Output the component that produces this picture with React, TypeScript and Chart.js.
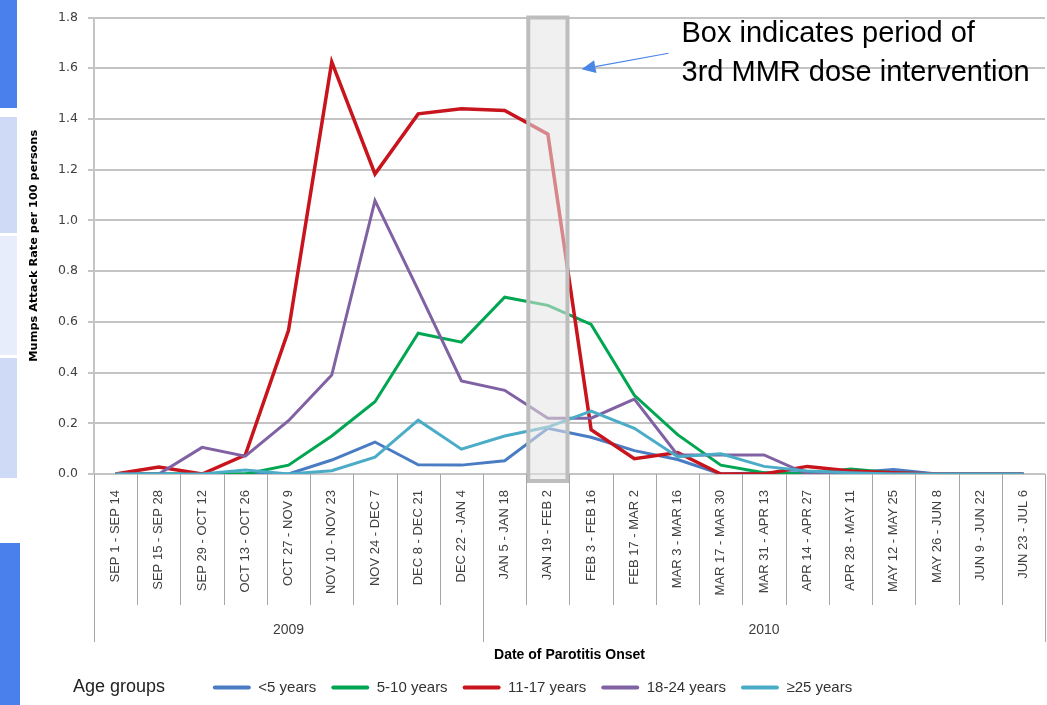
import { useEffect, useRef } from 'react';
import { Chart, registerables } from 'chart.js';

Chart.register(...registerables);

const categories = [
  'SEP 1 - SEP 14', 'SEP 15 - SEP 28', 'SEP 29 - OCT 12', 'OCT 13 - OCT 26', 'OCT 27 - NOV 9',
  'NOV 10 - NOV 23', 'NOV 24 - DEC 7', 'DEC 8 - DEC 21', 'DEC 22 - JAN 4', 'JAN 5 - JAN 18',
  'JAN 19 - FEB 2', 'FEB 3 - FEB 16', 'FEB 17 - MAR 2', 'MAR 3 - MAR 16', 'MAR 17 - MAR 30',
  'MAR 31 - APR 13', 'APR 14 - APR 27', 'APR 28 - MAY 11', 'MAY 12 - MAY 25', 'MAY 26 - JUN 8',
  'JUN 9 - JUN 22', 'JUN 23 - JUL 6',
];

const yearLabels = ['2009', '2010'];
const yearSpans = [9, 13];

const under5 = [0, 0, 0, 0, 0, 0.055, 0.126, 0.036, 0.035, 0.052, 0.18, 0.145, 0.092, 0.057, 0, 0.005, 0.005, 0.005, 0.018, 0, 0, 0];
const age5to10 = [0, 0, 0, 0, 0.035, 0.15, 0.285, 0.555, 0.52, 0.697, 0.665, 0.59, 0.31, 0.155, 0.035, 0.005, 0, 0.02, 0.005, 0, 0, 0];
const age11to17 = [0, 0.028, 0, 0.075, 0.567, 1.625, 1.183, 1.42, 1.44, 1.433, 1.34, 0.175, 0.06, 0.085, 0, 0, 0.03, 0.012, 0.005, 0, 0, 0];
const age18to24 = [0, 0, 0.105, 0.07, 0.21, 0.39, 1.078, 0.725, 0.367, 0.33, 0.22, 0.22, 0.295, 0.075, 0.075, 0.075, 0, 0, 0, 0, 0, 0];
const age25plus = [0, 0, 0, 0.016, 0, 0.013, 0.066, 0.212, 0.098, 0.15, 0.185, 0.248, 0.18, 0.068, 0.08, 0.03, 0.012, 0.005, 0, 0, 0, 0];

const seriesLabels = ['<5 years', '5-10 years', '11-17 years', '18-24 years', '≥25 years'];
const seriesValues = [under5, age5to10, age11to17, age18to24, age25plus];
const seriesColors = ['#4a7cc4', '#00a651', '#c8141c', '#8061a3', '#4aacc6'];

const yTicks = { min: 0, max: 1.8, step: 0.2 };
const interventionIndex = 10;
const arrowValue = 1.6;
const annotationLines = ['Box indicates period of', '3rd MMR dose intervention'];
const legendTitle = 'Age groups';
const yTitle = 'Mumps Attack Rate per 100 persons';
const xTitle = 'Date of Parotitis Onset';

const overlayPlugin = {
  id: 'overlay',
  afterDatasetsDraw(chart: any) {
    const { ctx, chartArea, scales } = chart;
    const x = scales.x;
    const step = x.getPixelForValue(1) - x.getPixelForValue(0);
    const cx = x.getPixelForValue(interventionIndex);
    const left = cx - step / 2 + 2;
    const right = cx + step / 2 - 2;
    const top = chartArea.top;
    const bottom = chartArea.bottom + 7;
    ctx.save();
    ctx.fillStyle = 'rgba(228,228,228,0.55)';
    ctx.fillRect(left, top, right - left, bottom - top);
    ctx.strokeStyle = '#bdbdbd';
    ctx.lineWidth = 4;
    ctx.strokeRect(left, top, right - left, bottom - top);
    ctx.restore();
  },
  afterDraw(chart: any) {
    const { ctx, chartArea, scales } = chart;
    const x = scales.x;
    const y = scales.y;
    const n = categories.length;
    const step = x.getPixelForValue(1) - x.getPixelForValue(0);
    const edge = (i: number) => x.getPixelForValue(0) - step / 2 + i * step;
    const base = chartArea.bottom;
    ctx.save();
    // category separators
    ctx.strokeStyle = '#a6a6a6';
    ctx.lineWidth = 1;
    const longEdges = new Set<number>([0, n]);
    let acc = 0;
    yearSpans.forEach((s) => { acc += s; longEdges.add(acc); });
    for (let i = 0; i <= n; i++) {
      const ex = Math.min(Math.round(edge(i)), chart.width - 2) + 0.5;
      ctx.beginPath();
      ctx.moveTo(ex, base);
      ctx.lineTo(ex, base + (longEdges.has(i) ? 168 : 131));
      ctx.stroke();
    }
    // year labels
    ctx.fillStyle = '#404040';
    ctx.font = "14px 'Liberation Sans', Arial, sans-serif";
    ctx.textAlign = 'center';
    ctx.textBaseline = 'middle';
    let startIdx = 0;
    yearLabels.forEach((lab, k) => {
      const a = edge(startIdx);
      const b = edge(startIdx + yearSpans[k]);
      ctx.fillText(lab, (a + b) / 2, base + 156);
      startIdx += yearSpans[k];
    });
    // arrow
    const cx = x.getPixelForValue(interventionIndex);
    const boxRight = cx + step / 2 - 2;
    const tipX = boxRight + 14;
    const tipY = y.getPixelForValue(arrowValue) + 1;
    const tailX = tipX + 87;
    const tailY = tipY - 16;
    const ang = Math.atan2(tailY - tipY, tailX - tipX);
    const headLen = 14;
    const headW = 6.5;
    const bx = tipX + Math.cos(ang) * headLen;
    const by = tipY + Math.sin(ang) * headLen;
    ctx.strokeStyle = '#4a86e8';
    ctx.fillStyle = '#4a86e8';
    ctx.lineWidth = 1.2;
    ctx.beginPath();
    ctx.moveTo(tailX, tailY);
    ctx.lineTo(bx, by);
    ctx.stroke();
    ctx.beginPath();
    ctx.moveTo(tipX, tipY);
    ctx.lineTo(bx - Math.sin(ang) * headW, by + Math.cos(ang) * headW);
    ctx.lineTo(bx + Math.sin(ang) * headW, by - Math.cos(ang) * headW);
    ctx.closePath();
    ctx.fill();
    // annotation text
    ctx.fillStyle = '#000000';
    ctx.font = "29px 'Liberation Sans', Arial, sans-serif";
    ctx.textAlign = 'left';
    ctx.textBaseline = 'alphabetic';
    ctx.fillText(annotationLines[0], tailX + 13, chartArea.top + 24);
    ctx.fillText(annotationLines[1], tailX + 13, chartArea.top + 63);
    // legend title
    const legend = chart.legend;
    if (legend && legend.legendHitBoxes && legend.legendHitBoxes.length) {
      const hb = legend.legendHitBoxes[0];
      ctx.fillStyle = '#222222';
      ctx.font = "18px 'Liberation Sans', Arial, sans-serif";
      ctx.textBaseline = 'middle';
      ctx.fillText(legendTitle, 73, hb.top + hb.height / 2);
    }
    ctx.restore();
  },
};

export default function App() {
  const canvasRef = useRef<HTMLCanvasElement | null>(null);

  useEffect(() => {
    if (!canvasRef.current) return;
    Chart.defaults.font.family = "'Liberation Sans', Arial, sans-serif";
    const n = seriesLabels.length;
    const chart = new Chart(canvasRef.current, {
      type: 'line',
      data: {
        labels: categories,
        datasets: seriesLabels.map((label, i) => ({
          label,
          data: seriesValues[i],
          borderColor: seriesColors[i],
          backgroundColor: seriesColors[i],
          borderWidth: i === 2 ? 3.5 : 3,
          pointRadius: 0,
          tension: 0,
          fill: false,
          order: n - 1 - i,
        })),
      },
      options: {
        responsive: false,
        animation: false,
        devicePixelRatio: 1,
        events: [],
        layout: { padding: { top: 16, left: 20, right: 2, bottom: 0 } },
        scales: {
          x: {
            type: 'category',
            offset: true,
            grid: { display: false, drawTicks: false },
            border: { display: false },
            ticks: {
              autoSkip: false,
              minRotation: 90,
              maxRotation: 90,
              padding: 16,
              color: '#404040',
              font: { size: 13 },
            },
            title: {
              display: true,
              text: xTitle,
              color: '#000000',
              font: { size: 14, weight: 'bold' },
              padding: { top: 0, bottom: 1 },
            },
            afterFit: (s: any) => {
              s.height = 191;
              s.paddingLeft = 0;
              s.paddingRight = 0;
            },
          },
          y: {
            min: yTicks.min,
            max: yTicks.max,
            ticks: {
              stepSize: yTicks.step,
              callback: (v: any) => Number(v).toFixed(1),
              color: '#404040',
              padding: 10,
              font: { family: "'DejaVu Sans', sans-serif", size: 12.5 },
            },
            grid: { color: '#c4c4c4', lineWidth: 2, drawTicks: true, tickLength: 6 },
            border: { display: true, color: '#c4c4c4', width: 2 },
            title: {
              display: true,
              text: yTitle,
              color: '#000000',
              font: { family: "'DejaVu Sans', sans-serif", size: 11.3, weight: 'bold' },
              padding: { top: 7, bottom: 0 },
            },
            afterFit: (s: any) => { s.width = 74; },
          },
        },
        plugins: {
          tooltip: { enabled: false },
          legend: {
            position: 'bottom',
            labels: {
              boxWidth: 38,
              boxHeight: 4,
              padding: 15,
              color: '#333333',
              font: { size: 15 },
              useBorderRadius: true,
              borderRadius: 2,
              generateLabels: (c: any) =>
                c.data.datasets.map((ds: any, i: number) => ({
                  text: ds.label,
                  fillStyle: ds.borderColor,
                  strokeStyle: ds.borderColor,
                  lineWidth: 0,
                  hidden: false,
                  datasetIndex: i,
                  borderRadius: 2,
                  fontColor: '#333333',
                })),
            },
          },
        },
      } as any,
      plugins: [overlayPlugin],
    });
    return () => chart.destroy();
  }, []);

  const bar = (top: number, height: number, width: number, color: string) => (
    <div style={{ position: 'absolute', left: 0, top, width, height, background: color }} />
  );

  return (
    <div style={{ position: 'absolute', left: 0, top: 0, width: 1047, height: 705, background: '#ffffff', overflow: 'hidden' }}>
      <canvas ref={canvasRef} width={1047} height={705} style={{ position: 'absolute', left: 0, top: 0 }} />
      {bar(0, 108, 17, '#4a80ec')}
      {bar(117, 116, 17, '#cfdaf7')}
      {bar(236, 119, 17, '#e8edfb')}
      {bar(358, 120, 17, '#cfdaf7')}
      {bar(543, 162, 20, '#4a80ec')}
    </div>
  );
}
